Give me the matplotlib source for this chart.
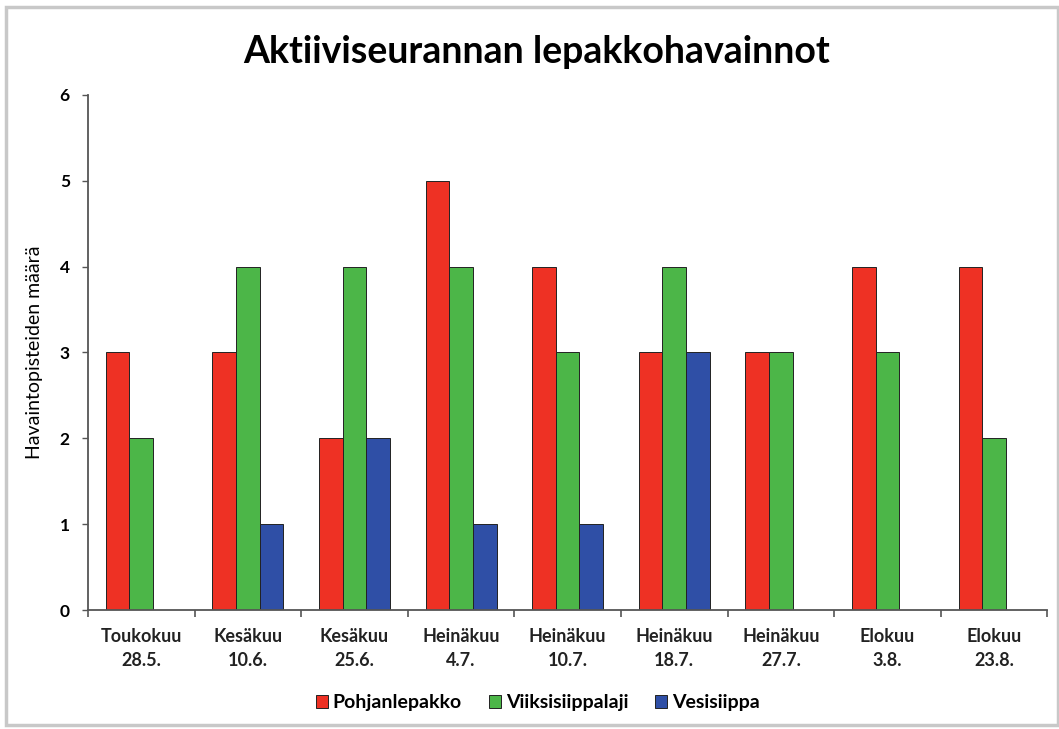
import matplotlib.pyplot as plt
import numpy as np
from matplotlib.patches import Rectangle

categories = ['Toukokuu\n28.5.', 'Kesäkuu\n10.6.', 'Kesäkuu\n25.6.', 'Heinäkuu\n4.7.',
              'Heinäkuu\n10.7.', 'Heinäkuu\n18.7.', 'Heinäkuu\n27.7.', 'Elokuu\n3.8.',
              'Elokuu\n23.8.']
pohjanlepakko = [3, 3, 2, 5, 4, 3, 3, 4, 4]
viiksisiippalaji = [2, 4, 4, 4, 3, 4, 3, 3, 2]
vesisiippa = [0, 1, 2, 1, 1, 3, 0, 0, 0]

series = [('Pohjanlepakko', pohjanlepakko, '#ee3124'),
          ('Viiksisiippalaji', viiksisiippalaji, '#4cb648'),
          ('Vesisiippa', vesisiippa, '#2f4fa6')]

plt.rc('font', family=['Lato', 'DejaVu Sans'])
fig = plt.figure(figsize=(10.59, 7.29), dpi=100)
ax = fig.add_axes([0.083, 0.163, 0.906, 0.707])

# grey frame round the chart
fig.patches.append(Rectangle((0.006, 0.005), 0.993, 0.985, transform=fig.transFigure,
                             fill=False, edgecolor='#c8c8c8', linewidth=2.5))

x = np.arange(len(categories))
w = 0.222
for i, (name, vals, col) in enumerate(series):
    ax.bar(x + (i - 1) * w, vals, width=w, color=col, edgecolor='#222222',
           linewidth=0.7, label=name)

ax.set_xlim(-0.5, len(categories) - 0.5)
ax.set_ylim(0, 6)
ax.set_yticks(range(7))
ax.set_xticks(x)
ax.set_xticklabels(categories, fontsize=13, fontweight='bold', color='#222222',
                   linespacing=1.5)
ax.tick_params(axis='x', length=0, pad=13)
ax.set_xticks(np.arange(-0.5, len(categories), 1), minor=True)
ax.tick_params(axis='x', which='minor', length=5, width=1.2, color='#555555')
ax.tick_params(axis='y', length=4, width=1, color='#555555', labelsize=12.5, pad=9)
for t in ax.get_yticklabels():
    t.set_fontweight('bold')
for s in ['top', 'right']:
    ax.spines[s].set_visible(False)
ax.spines['left'].set_color('#555555')
ax.spines['bottom'].set_color('#555555')
ax.spines['left'].set_linewidth(1.3)
ax.spines['bottom'].set_linewidth(1.3)

ax.set_ylabel('Havaintopisteiden määrä', fontsize=14, labelpad=12)
fig.text(0.507, 0.929, 'Aktiiviseurannan lepakkohavainnot', ha='center', va='center',
         fontsize=27, fontweight='bold')

leg = fig.legend(loc='center', bbox_to_anchor=(0.508, 0.036), ncol=3, frameon=False,
                 handlelength=0.6, handleheight=0.6, handletextpad=0.25, columnspacing=1.4,
                 prop={'size': 14, 'weight': 'bold'})

plt.savefig('out.png', dpi=100)
plt.close()
